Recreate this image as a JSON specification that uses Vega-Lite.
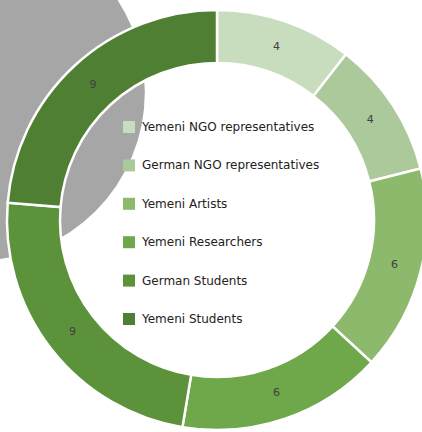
{
  "$schema": "https://vega.github.io/schema/vega-lite/v6.json",
  "width": 410,
  "height": 424,
  "autosize": {"type": "none"},
  "padding": {"left": 12, "top": 8, "right": 0, "bottom": 0},
  "background": "white",
  "view": {"stroke": null},
  "layer": [
    {
      "data": {"values": [{"cx": -24, "cy": 92}]},
      "mark": {"type": "point", "shape": "circle", "filled": true, "color": "#a6a6a6", "opacity": 1, "size": 114000, "clip": false},
      "encoding": {
        "x": {"field": "cx", "type": "quantitative", "scale": {"domain": [12, 422], "nice": false, "zero": false}, "axis": null},
        "y": {"field": "cy", "type": "quantitative", "scale": {"domain": [8, 432], "reverse": true, "nice": false, "zero": false}, "axis": null}
      }
    },
    {
      "data": {"values": [
        {"group": "Yemeni NGO representatives", "count": 4, "idx": 1},
        {"group": "German NGO representatives", "count": 4, "idx": 2},
        {"group": "Yemeni Artists", "count": 6, "idx": 3},
        {"group": "Yemeni Researchers", "count": 6, "idx": 4},
        {"group": "German Students", "count": 9, "idx": 5},
        {"group": "Yemeni Students", "count": 9, "idx": 6}
      ]},
      "encoding": {
        "theta": {"field": "count", "type": "quantitative", "stack": true},
        "order": {"field": "idx", "type": "quantitative"},
        "color": {
          "field": "group", "type": "nominal",
          "scale": {
            "domain": ["Yemeni NGO representatives", "German NGO representatives", "Yemeni Artists", "Yemeni Researchers", "German Students", "Yemeni Students"],
            "range": ["#c8dcbe", "#abc99a", "#8cb96c", "#6ea84a", "#5c933a", "#4f7f33"]
          },
          "legend": {
            "title": null, "orient": "none", "legendX": 111, "legendY": 113,
            "symbolType": "square", "symbolSize": 144, "symbolStrokeWidth": 0, "symbolOpacity": 1,
            "labelFont": "DejaVu Sans", "labelFontSize": 12, "labelColor": "#222222",
            "rowPadding": 26.4, "labelOffset": 7, "labelLimit": 300
          }
        }
      },
      "layer": [
        {"mark": {"type": "arc", "outerRadius": 210, "innerRadius": 157, "stroke": "white", "strokeWidth": 2.5}},
        {"mark": {"type": "text", "radius": 183, "font": "DejaVu Sans", "fontSize": 11, "color": "#404040"},
         "encoding": {"text": {"field": "count", "type": "quantitative"}, "color": {"value": "#404040"}}}
      ]
    }
  ]
}
